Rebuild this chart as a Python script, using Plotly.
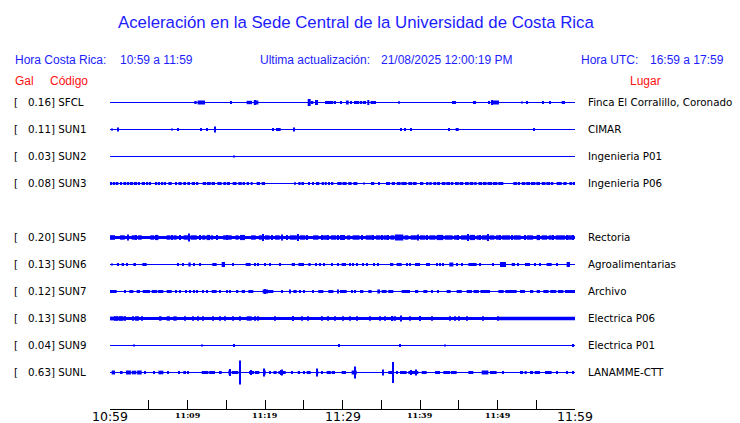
import plotly.graph_objects as go

# ---------------- data ----------------
STATIONS = ["SFCL", "SUN1", "SUN2", "SUN3", "SUN5", "SUN6", "SUN7", "SUN8", "SUN9", "SUNL"]
PEAK_GAL = [0.16, 0.11, 0.03, 0.08, 0.20, 0.13, 0.12, 0.13, 0.04, 0.63]
PLACES = ["Finca El Corralillo, Coronado", "CIMAR", "Ingenieria P01", "Ingenieria P06",
          "Rectoria", "Agroalimentarias", "Archivo", "Electrica P06", "Electrica P01", "LANAMME-CTT"]
ROW_SLOTS = [0, 1, 2, 3, 5, 6, 7, 8, 9, 10]          # SUN4 slot is empty
NOISE_FLOOR = [0, 0, 0, 0, 1.6, 0, 0, 1.5, 0, 0]      # permanent noise band amplitude

TICK_MINUTES = [0, 10, 20, 30, 40, 50, 60]
TICK_LABELS = ["10:59", "11:09", "11:19", "11:29", "11:39", "11:49", "11:59"]
MAJOR_LABELS = ["10:59", "11:29", "11:59"]
MINOR_TICKS = [0, 5, 10, 15, 20, 25, 30, 35, 40, 45, 50, 55, 60]

# bursts: (start minute, end minute, half amplitude)
SFCL = [(10.88, 11.18, 1.5), (11.31, 12.26, 2), (15.61, 15.74, 1.5), (17.63, 18.32, 1.7),
        (18.54, 19.14, 2), (18.7, 18.8, 2.5), (25.51, 25.89, 3.5), (25.89, 26.24, 1.5),
        (26.45, 26.84, 2.5), (27.78, 27.91, 1.5), (28.0, 28.52, 1.5), (28.6, 28.82, 1.5),
        (28.95, 29.12, 1.5), (29.68, 29.89, 1.5), (30.58, 30.8, 2), (30.97, 31.23, 1.5),
        (31.48, 32.17, 1.5), (32.34, 32.43, 1.5), (32.6, 33.03, 1.5), (33.2, 33.46, 2.5),
        (33.63, 34.32, 1.5), (37.29, 37.42, 1.2), (44.17, 44.25, 1.5), (44.43, 44.52, 1.5),
        (46.84, 47.23, 1.5), (48.82, 48.95, 1.5), (49.16, 50.19, 2), (49.3, 49.4, 2.5),
        (53.16, 53.29, 1), (53.68, 53.94, 1.5), (55.87, 55.96, 1.5), (56.65, 56.9, 1.5),
        (58.28, 58.71, 1.5)]
SUN1 = [(0.26, 0.34, 1), (1.03, 1.12, 2), (7.91, 8.0, 1), (8.69, 8.86, 1.5), (11.74, 11.83, 1.5),
        (12.52, 12.6, 1.5), (13.55, 13.63, 3), (21.03, 21.12, 1.5), (21.42, 22.02, 1.5),
        (23.66, 23.74, 2), (37.55, 37.63, 1.5), (38.06, 38.15, 1.5), (38.84, 38.92, 1.5),
        (43.74, 43.83, 1.5), (44.6, 44.99, 1.5), (54.62, 54.71, 1.5)]
SUN2 = [(15.9, 16.0, 1)]
SUN3 = [(0.0, 0.3, 1.5), (0.4, 0.65, 1.5), (0.73, 1.08, 1.5), (1.29, 1.5, 1.5), (1.72, 2.1, 1.5),
        (2.2, 2.49, 1.5), (2.58, 3.0, 1.5), (3.1, 3.5, 1.5), (3.6, 3.87, 1.5), (4.09, 4.52, 1.5),
        (4.65, 4.95, 1.5), (5.16, 5.29, 1.5), (5.81, 6.1, 1.5), (6.2, 6.45, 1.5), (6.67, 6.88, 1.5),
        (7.1, 7.23, 1.5), (7.53, 7.96, 1.5), (8.39, 8.6, 1.5), (8.82, 9.25, 1.5), (9.46, 9.81, 1.5),
        (9.98, 10.32, 1.5), (10.54, 10.97, 1.5), (11.1, 11.4, 1.5), (11.96, 12.4, 1.5),
        (12.5, 13.0, 1.5), (13.1, 13.55, 1.5), (13.85, 14.41, 1.5), (14.62, 15.0, 1.5),
        (15.1, 15.48, 1.5), (15.83, 16.34, 1.5), (16.56, 17.0, 1.5), (17.1, 17.42, 1.5),
        (17.63, 17.94, 1.5), (18.15, 18.41, 1.5), (18.92, 19.35, 1.5), (19.57, 20.0, 1.5),
        (23.78, 23.91, 1.2), (24.3, 24.6, 1.5), (24.7, 25.03, 1.5), (25.59, 25.81, 1.5),
        (26.11, 26.32, 1.5), (26.58, 27.01, 1.5), (27.31, 27.6, 1.5), (27.7, 27.96, 1.5),
        (28.22, 28.39, 1.5), (28.6, 28.82, 1.5), (29.33, 29.89, 1.5), (30.0, 30.54, 1.5),
        (30.75, 31.18, 1.5), (31.4, 31.91, 1.5), (32.69, 32.9, 1.0), (33.68, 34.11, 1.5),
        (34.62, 34.84, 1.5), (35.61, 36.13, 1.5), (36.34, 36.77, 1.5), (36.99, 37.5, 1.5),
        (37.6, 38.28, 1.5), (38.49, 39.0, 1.5), (39.1, 39.57, 1.5), (40.0, 40.43, 1.5),
        (40.77, 41.1, 1.5), (41.2, 41.51, 1.5), (41.72, 42.1, 1.5), (42.2, 42.58, 1.5),
        (42.8, 43.3, 1.5), (43.4, 43.9, 1.5), (44.0, 44.3, 1.5), (44.52, 45.0, 1.5),
        (45.1, 45.59, 1.5), (45.81, 46.3, 1.5), (46.4, 46.9, 1.5), (47.0, 47.31, 1.5),
        (47.53, 48.0, 1.5), (48.1, 48.6, 1.5), (48.7, 49.3, 1.5), (49.4, 50.0, 1.5),
        (50.1, 50.75, 1.5), (52.04, 52.5, 1.5), (52.6, 52.9, 1.5), (53.12, 53.6, 1.5),
        (53.7, 54.2, 1.5), (54.3, 54.9, 1.5), (55.0, 55.48, 1.5), (55.7, 56.2, 1.5),
        (56.3, 56.8, 1.5), (56.9, 57.2, 1.5), (57.63, 58.28, 1.5), (58.49, 58.92, 1.5),
        (59.27, 59.6, 1.5), (59.7, 60.0, 1.5)]
SUN5 = [(0.0, 0.65, 2.3), (1.3, 1.9, 2.2), (2.3, 2.45, 3.0), (2.8, 3.3, 2.2), (3.3, 3.42, 2.6),
        (3.6, 4.1, 2.2), (5.2, 5.7, 2.2), (5.81, 6.24, 2.6), (7.3, 7.8, 2.2), (7.9, 8.02, 2.6),
        (8.2, 8.6, 2.2), (8.97, 9.1, 2.6), (9.5, 10.1, 2.2), (10.18, 10.3, 4.0), (10.4, 11.2, 2.2),
        (11.55, 11.68, 2.6), (11.9, 12.3, 2.2), (12.47, 12.9, 2.6), (13.0, 13.3, 2.2),
        (13.7, 13.82, 2.6), (14.6, 14.95, 2.2), (15.0, 15.12, 2.6), (15.2, 15.7, 2.2),
        (16.2, 16.6, 2.2), (16.77, 17.42, 2.6), (18.2, 18.8, 2.2), (19.2, 19.6, 2.2),
        (19.72, 19.85, 3.5), (20.0, 20.6, 2.2), (20.8, 20.92, 2.6), (21.3, 21.9, 2.2),
        (22.1, 22.22, 3.0), (22.75, 22.87, 2.6), (23.2, 24.1, 2.2), (24.25, 24.37, 3.5),
        (24.5, 25.2, 2.2), (25.32, 25.45, 2.6), (26.2, 26.9, 2.2), (27.25, 27.38, 2.6),
        (27.5, 28.0, 2.2), (28.1, 28.23, 2.6), (28.5, 29.2, 2.2), (29.4, 29.53, 2.6),
        (29.68, 30.32, 2.5), (30.6, 31.0, 2.2), (31.3, 32.2, 2.2), (32.42, 32.54, 2.6),
        (33.0, 33.8, 2.2), (33.92, 34.05, 2.6), (34.3, 34.9, 2.2), (35.0, 35.12, 2.6),
        (35.3, 35.8, 2.2), (35.85, 35.97, 2.6), (36.2, 36.7, 2.2), (36.77, 37.85, 3.0),
        (38.0, 38.5, 2.2), (38.8, 39.6, 2.2), (39.72, 39.85, 3.0), (40.0, 40.7, 2.2),
        (40.8, 40.92, 2.6), (41.2, 42.0, 2.2), (42.15, 43.01, 2.6), (43.2, 44.2, 2.2),
        (44.4, 44.85, 2.2), (44.9, 45.02, 2.6), (45.3, 46.1, 2.2), (46.18, 46.3, 3.5),
        (46.4, 47.1, 2.6), (47.3, 47.6, 2.2), (47.68, 47.8, 2.6), (48.0, 48.7, 2.2),
        (48.76, 48.88, 3.5), (49.0, 49.6, 2.2), (49.8, 50.2, 2.2), (50.26, 50.38, 2.6),
        (50.6, 51.6, 2.2), (51.77, 51.9, 2.6), (52.1, 53.0, 2.2), (53.5, 53.62, 2.6),
        (53.8, 54.6, 2.2), (55.05, 55.48, 2.6), (55.7, 56.4, 2.2), (56.6, 57.0, 2.2),
        (57.15, 57.27, 2.6), (57.5, 58.7, 2.2), (58.86, 58.98, 2.6), (59.1, 59.6, 2.2),
        (59.72, 59.85, 2.6)]
SUN6 = [(0.26, 0.34, 1.0), (1.03, 1.12, 1.5), (1.5, 1.81, 1.5), (2.2, 2.28, 1.5), (3.01, 3.35, 1.5),
        (4.17, 4.73, 1.5), (8.78, 8.86, 1.5), (9.34, 9.42, 1.5), (10.11, 10.41, 2.0),
        (10.8, 10.88, 1.5), (11.57, 11.65, 1.5), (13.2, 13.76, 1.5), (14.41, 14.84, 2.5),
        (15.87, 15.95, 1.5), (17.51, 18.15, 1.5), (18.67, 18.75, 1.5), (19.1, 19.18, 1.5),
        (19.96, 20.04, 1.5), (20.6, 20.7, 1.5), (21.9, 21.98, 1.5), (23.44, 23.87, 1.5),
        (24.3, 25.03, 1.5), (25.59, 25.89, 1.5), (26.54, 26.62, 1.5), (27.06, 27.14, 1.5),
        (27.57, 27.65, 1.5), (28.56, 28.64, 1.5), (29.42, 29.5, 1.5), (29.89, 30.45, 1.5),
        (30.93, 31.01, 1.5), (31.36, 31.44, 1.5), (31.87, 31.95, 1.5), (32.56, 32.64, 1.5),
        (33.08, 33.16, 1.5), (34.07, 34.15, 1.5), (34.58, 34.66, 1.5), (36.13, 36.56, 1.5),
        (36.99, 37.63, 1.5), (38.24, 38.32, 1.5), (38.67, 38.75, 1.5), (39.35, 40.0, 1.5),
        (40.77, 41.29, 1.5), (42.11, 42.19, 1.5), (42.54, 42.62, 1.5), (42.97, 43.05, 1.5),
        (43.78, 44.3, 2.0), (44.78, 44.86, 1.5), (45.34, 45.42, 1.5), (46.24, 47.31, 1.5),
        (47.7, 47.78, 1.5), (49.42, 49.5, 1.5), (50.32, 51.1, 2.5), (51.83, 52.26, 1.5),
        (52.65, 52.73, 1.5), (53.55, 54.19, 1.5), (54.8, 54.88, 1.5), (55.44, 55.52, 1.5),
        (56.34, 56.99, 1.5), (57.59, 57.67, 1.5), (58.92, 59.35, 2.5)]
SUN7 = [(0.0, 0.86, 1.5), (1.9, 1.98, 1.5), (2.49, 3.01, 1.5), (3.44, 3.87, 1.5), (4.22, 5.16, 1.5),
        (5.38, 6.1, 1.5), (6.2, 6.88, 1.5), (7.31, 7.96, 1.5), (8.48, 8.56, 1.5), (8.99, 9.07, 1.5),
        (9.77, 9.85, 1.5), (10.28, 10.36, 1.5), (10.84, 10.92, 1.5), (11.14, 11.22, 1.5),
        (12.0, 12.08, 1.5), (12.43, 12.51, 1.5), (13.12, 13.76, 1.5), (14.15, 14.23, 1.5),
        (15.01, 15.09, 1.5), (15.44, 15.52, 1.5), (16.26, 16.56, 1.5), (16.99, 17.42, 1.5),
        (17.85, 18.49, 1.5), (19.7, 20.4, 2.0), (20.4, 21.08, 1.5), (20.0, 20.1, 2.5),
        (22.11, 22.19, 1.5), (23.19, 23.27, 2.0), (23.66, 24.09, 1.5), (24.48, 24.56, 1.5),
        (24.99, 25.07, 1.5), (26.11, 26.19, 1.5), (26.88, 27.53, 1.5), (28.17, 28.82, 1.5),
        (29.42, 29.5, 2.0), (29.68, 30.54, 1.5), (31.14, 31.22, 1.5), (31.57, 31.65, 1.5),
        (32.26, 32.69, 1.5), (33.33, 33.76, 1.5), (34.49, 34.84, 2.0), (35.05, 35.7, 1.5),
        (35.9, 36.56, 1.5), (37.63, 38.71, 1.5), (39.35, 39.78, 1.5), (40.43, 40.95, 1.5),
        (41.47, 41.55, 1.5), (42.33, 42.41, 1.5), (43.44, 43.96, 1.5), (44.73, 45.38, 1.5),
        (46.02, 46.7, 1.5), (46.9, 47.6, 1.5), (47.8, 49.03, 1.5), (50.11, 50.8, 1.5),
        (51.0, 52.47, 1.5), (52.9, 53.55, 1.5), (54.19, 54.62, 1.5), (55.05, 55.48, 1.5),
        (55.91, 56.6, 1.5), (56.8, 57.6, 1.5), (57.8, 58.5, 1.5), (58.7, 60.0, 1.5)]
SUN8 = [(0.0, 2.0, 1.9), (0.65, 0.65, 2.2), (0.95, 0.95, 2.2), (1.29, 1.29, 2.2), (1.5, 1.5, 2.2),
        (1.94, 1.94, 2.2), (3.01, 3.01, 2.2), (3.35, 3.35, 2.2), (3.66, 3.66, 2.2), (4.09, 4.09, 2.2),
        (6.45, 6.67, 2.2), (7.31, 7.74, 2.2), (8.17, 8.6, 2.2), (9.68, 9.68, 2.2), (10.75, 10.75, 2.2),
        (11.4, 11.4, 2.2), (12.04, 12.04, 2.2), (13.33, 13.33, 2.2), (14.19, 14.19, 2.2),
        (14.84, 14.84, 2.2), (15.91, 15.91, 2.2), (16.77, 16.77, 2.2), (17.63, 18.28, 2.2),
        (18.71, 18.71, 2.2), (19.14, 19.14, 2.2), (21.29, 21.29, 2.2), (23.66, 23.66, 2.5),
        (24.73, 24.73, 2.2), (25.59, 25.59, 2.2), (27.31, 27.31, 2.2), (28.17, 28.17, 2.2),
        (29.03, 29.03, 2.2), (30.11, 30.11, 2.2), (30.97, 30.97, 2.2), (31.91, 31.91, 2.2),
        (33.55, 33.55, 2.2), (34.84, 34.84, 2.2), (35.48, 35.48, 2.2), (36.34, 36.56, 2.5),
        (36.77, 36.77, 2.2), (37.42, 37.63, 3.0), (38.71, 38.71, 2.2), (40.0, 40.0, 2.5),
        (41.51, 41.51, 2.2), (43.87, 43.87, 2.2), (44.52, 44.52, 2.2), (45.08, 45.08, 2.2),
        (46.02, 46.02, 2.2), (48.17, 48.17, 2.2), (50.11, 50.11, 2.2), (50.2, 60.0, 1.8)]
SUN9 = [(3.1, 3.18, 1.0), (11.83, 11.91, 1.0), (15.91, 16.09, 1.5), (29.55, 29.63, 1.5),
        (37.33, 37.51, 1.5), (43.23, 43.31, 1.0), (59.75, 59.85, 1.5)]
SUNL = [(0.22, 0.65, 2.0), (1.29, 1.63, 1.5), (2.06, 2.7, 2.0), (2.8, 3.4, 1.8), (3.5, 4.09, 2.0),
        (4.48, 4.56, 1.5), (5.59, 5.81, 1.5), (6.24, 6.88, 1.8), (7.49, 7.57, 1.5), (8.86, 8.94, 1.5),
        (9.46, 9.81, 1.5), (10.07, 10.15, 1.5), (11.83, 12.7, 1.5), (12.8, 13.55, 1.5),
        (14.19, 14.41, 1.5), (15.27, 15.57, 2.0), (15.4, 15.48, 3.5), (15.7, 16.56, 1.5),
        (16.73, 16.81, 12.0), (17.94, 18.6, 1.5), (18.7, 19.27, 1.5), (18.1, 18.18, 2.5),
        (19.78, 20.09, 2.0), (19.9, 19.98, 4.0), (20.61, 20.69, 1.5), (21.08, 21.51, 1.5),
        (21.72, 22.67, 1.5), (22.15, 22.23, 3.0), (22.0, 22.1, 2.5), (23.4, 23.48, 1.5),
        (24.22, 24.52, 1.5), (24.99, 25.07, 1.5), (25.38, 25.89, 1.5), (26.67, 26.88, 1.5),
        (26.73, 26.81, 4.0), (27.27, 27.35, 1.5), (27.96, 28.5, 1.5), (28.6, 29.03, 1.5),
        (29.89, 30.45, 1.5), (31.18, 31.83, 2.0), (31.62, 31.7, 6.0), (35.14, 35.22, 3.0),
        (35.91, 36.5, 1.5), (36.52, 36.6, 10.5), (36.95, 37.03, 1.5), (37.42, 38.28, 1.5),
        (38.49, 39.78, 1.5), (39.44, 39.52, 3.0), (38.8, 38.88, 2.5), (40.22, 40.86, 1.5),
        (41.94, 42.58, 1.5), (43.01, 43.9, 1.5), (44.0, 44.73, 1.5), (46.24, 46.88, 1.5),
        (47.96, 48.82, 2.0), (49.03, 49.89, 1.5), (50.71, 50.79, 1.5), (52.9, 53.3, 1.5),
        (53.5, 53.76, 1.5), (54.19, 54.6, 1.5), (54.8, 55.48, 1.5), (56.13, 56.99, 1.5),
        (57.59, 57.67, 1.5), (58.88, 58.96, 1.5), (59.66, 59.74, 1.5)]
BURSTS = [SFCL, SUN1, SUN2, SUN3, SUN5, SUN6, SUN7, SUN8, SUN9, SUNL]

# ---------------- layout constants ----------------
W, H = 740, 423
ML, MR, MT, MB = 110, 165, 88, 14
PW, PH = W - ML - MR, H - MT - MB
ROW_STEP = 27
Y_TOP = 14.5
X_MIN, X_MAX = 0, 60
MIN_W = 0.14
BLUE = "#0000ff"
TXT_BLUE = "#1c1cff"
RED = "#ff1010"
SANS = "Liberation Sans, Arial, sans-serif"
DJV = "DejaVu Sans, sans-serif"


def px_x(px):
    return (px - ML) / PW


def px_y(py):
    return 1 - (py - MT) / PH


fig = go.Figure()
ann = []

for name, gal, place, slot, floor, bursts in zip(STATIONS, PEAK_GAL, PLACES, ROW_SLOTS,
                                                 NOISE_FLOOR, BURSTS):
    yc = -ROW_STEP * slot
    fig.add_trace(go.Scatter(x=[X_MIN, X_MAX], y=[yc, yc], mode="lines",
                             line=dict(color=BLUE, width=1), hoverinfo="skip"))
    segs = list(bursts)
    if floor > 0:
        segs = [(X_MIN, X_MAX, floor)] + segs
    xs = [(a + b) / 2 for a, b, _ in segs]
    ws = [max(b - a, MIN_W) for a, b, _ in segs]
    bases = [yc - amp for _, _, amp in segs]
    hs = [2 * amp for _, _, amp in segs]
    fig.add_trace(go.Bar(x=xs, y=hs, base=bases, width=ws,
                         marker=dict(color=BLUE, line=dict(width=0)), hoverinfo="skip"))
    # labels
    ann.append(dict(text="[", x=px_x(14), y=yc + 0.5, yref="y", xanchor="left"))
    ann.append(dict(text=f"{gal:.2f}] {name}", x=px_x(27.5), y=yc + 0.5, yref="y", xanchor="left"))
    ann.append(dict(text=place, x=px_x(587.5), y=yc + 0.5, yref="y", xanchor="left"))

for a in ann:
    a.update(xref="paper", yanchor="middle", showarrow=False, borderpad=0, borderwidth=0,
             font=dict(family=DJV, size=10.3, color="black"))


def txt(text, x, y, size, color, xanchor="left", family=SANS):
    ann.append(dict(text=text, x=px_x(x), y=px_y(y), xref="paper", yref="paper",
                    xanchor=xanchor, yanchor="middle", showarrow=False,
                    borderpad=0, borderwidth=0,
                    font=dict(family=family, size=size, color=color)))


txt("Aceleración en la Sede Central de la Universidad de Costa Rica", 356, 22.5, 16.8, TXT_BLUE, "center")
txt("Hora Costa Rica:", 14.5, 60.5, 12, TXT_BLUE)
txt("10:59 a 11:59", 120, 60.5, 12, TXT_BLUE)
txt("Ultima actualización:", 260, 60.5, 12, TXT_BLUE)
txt("21/08/2025 12:00:19 PM", 381, 60.5, 12, TXT_BLUE)
txt("Hora UTC:", 580.5, 60.5, 12, TXT_BLUE)
txt("16:59 a 17:59", 723.5, 60.5, 12, TXT_BLUE, "right")
txt("Gal", 14.5, 81, 12, RED)
txt("Código", 50, 81, 12, RED)
txt("Lugar", 630, 81, 12, RED)

for m, lab in zip(TICK_MINUTES, TICK_LABELS):
    major = lab in MAJOR_LABELS
    ann.append(dict(text=lab if major else f"<b>{lab}</b>", x=m, xref="x",
                    y=px_y(416.5 if major else 414.5), yref="paper",
                    xanchor="center", yanchor="middle", showarrow=False,
                    borderpad=0, borderwidth=0,
                    font=dict(family=DJV if major else "DejaVu Serif, serif",
                              size=12.5 if major else 8, color="black")))

fig.update_layout(
    width=W, height=H, margin=dict(l=ML, r=MR, t=MT, b=MB, pad=0),
    paper_bgcolor="white", plot_bgcolor="white", showlegend=False,
    barmode="overlay", annotations=ann,
    xaxis=dict(range=[X_MIN, X_MAX], showgrid=False, zeroline=False, showline=True,
               linecolor="black", linewidth=1, ticks="inside", ticklen=9, tickwidth=1,
               tickcolor="black", tickmode="array", tickvals=MINOR_TICKS,
               showticklabels=False, fixedrange=True, automargin=False),
    yaxis=dict(range=[Y_TOP - PH, Y_TOP], visible=False, fixedrange=True, automargin=False),
)

fig.write_html("out.html", config={"displayModeBar": False},
               post_script="document.body.style.margin='0';document.body.style.overflow='hidden';")
